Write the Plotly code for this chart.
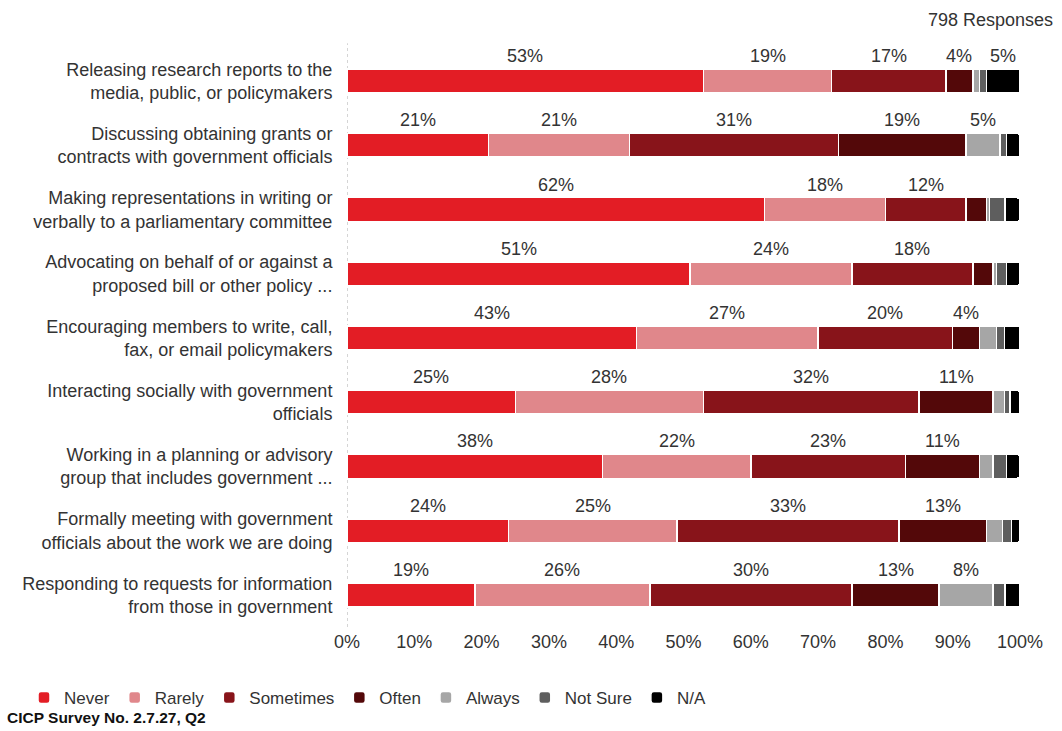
import plotly.graph_objects as go

# Survey items (top to bottom)
activities = [
    "Releasing research reports to the<br>media, public, or policymakers",
    "Discussing obtaining grants or<br>contracts with government officials",
    "Making representations in writing or<br>verbally to a parliamentary committee",
    "Advocating on behalf of or against a<br>proposed bill or other policy ...",
    "Encouraging members to write, call,<br>fax, or email policymakers",
    "Interacting socially with government<br>officials",
    "Working in a planning or advisory<br>group that includes government ...",
    "Formally meeting with government<br>officials about the work we are doing",
    "Responding to requests for information<br>from those in government",
]

responses = ["Never", "Rarely", "Sometimes", "Often", "Always", "Not Sure", "N/A"]

# Share of respondents (%) per answer, one list per answer, in item order
never = [53, 21, 62, 51, 43, 25, 38, 24, 19]
rarely = [19, 21, 18, 24, 27, 28, 22, 25, 26]
sometimes = [17, 31, 12, 18, 20, 32, 23, 33, 30]
often = [4, 19, 3, 3, 4, 11, 11, 13, 13]
always = [1, 5, 0.5, 0.5, 2.5, 1.7, 2, 2.4, 8]
not_sure = [1, 1, 2.3, 1.5, 1.2, 0.8, 2, 1.3, 1.8]
n_a = [5, 2, 2.2, 2, 2.3, 1.5, 2, 1.3, 2.2]

series = [never, rarely, sometimes, often, always, not_sure, n_a]
colors = ["#E31D25", "#E0878B", "#88141A", "#530809", "#A6A6A6", "#5E5E5E", "#000000"]

x_ticks = list(range(0, 101, 10))
label_threshold = 4  # segments at or above this share get a value label

text_color = "#333333"
font_family = "Liberation Sans, Arial, Helvetica, sans-serif"

fig = go.Figure()
for name, vals, col in zip(responses, series, colors):
    fig.add_trace(go.Bar(
        name=name,
        y=list(range(len(activities))),
        x=vals,
        orientation="h",
        marker=dict(color=col, line=dict(color="white", width=1.5)),
        width=0.37,
        hoverinfo="skip",
    ))

# Value labels above each sufficiently large segment
annotations = []
for i in range(len(activities)):
    left = 0
    for vals in series:
        v = vals[i]
        if v >= label_threshold:
            annotations.append(dict(
                x=left + v / 2, y=i, xref="x", yref="y",
                text=f"{round(v)}%", showarrow=False,
                yanchor="middle", yshift=25,
                font=dict(size=18, color=text_color, family=font_family),
            ))
        left += v

annotations.append(dict(
    x=1.052, y=1.05, xref="paper", yref="paper", xanchor="right", yanchor="middle",
    text="798 Responses", showarrow=False,
    font=dict(size=18, color=text_color, family=font_family),
))
annotations.append(dict(
    x=-0.508, y=-0.156, xref="paper", yref="paper", xanchor="left", yanchor="middle",
    text="<b>CICP Survey No. 2.7.27, Q2</b>", showarrow=False,
    font=dict(size=15.5, color="#111111", family=font_family),
))

fig.update_layout(
    width=1062, height=731,
    margin=dict(l=347, r=42, t=49, b=104),
    plot_bgcolor="white", paper_bgcolor="white",
    barmode="stack",
    barcornerradius=3,
    font=dict(family=font_family, color=text_color, size=18),
    showlegend=True,
    legend=dict(
        orientation="h", xref="paper", yref="paper",
        x=(24 - 347) / 673, y=(627 - 698) / 578, xanchor="left", yanchor="middle",
        font=dict(size=17, color=text_color, family=font_family),
        itemwidth=30, traceorder="normal",
    ),
    annotations=annotations,
    shapes=[dict(
        type="line", xref="x", yref="paper", x0=0, x1=0, y0=0, y1=1.01,
        line=dict(color="#C8C8C8", width=1.5, dash="dot"), layer="below",
    )],
    xaxis=dict(
        range=[0, 100], tickvals=x_ticks, ticktext=[f"{t}%" for t in x_ticks],
        showgrid=False, zeroline=False, showline=False, ticks="",
        ticklabelstandoff=2,
        tickfont=dict(size=18, color=text_color),
        fixedrange=True,
    ),
    yaxis=dict(
        range=[len(activities) - 0.5, -0.5],
        tickvals=list(range(len(activities))), ticktext=activities,
        showgrid=False, zeroline=False, showline=False,
        ticks="outside", ticklen=10, tickcolor="rgba(0,0,0,0)",
        tickfont=dict(size=18, color=text_color),
        fixedrange=True,
    ),
)

fig.write_html("out.html")
